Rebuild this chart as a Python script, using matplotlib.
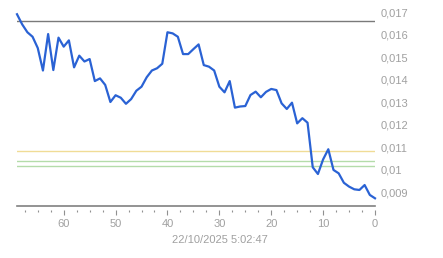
import matplotlib
matplotlib.use("Agg")
import matplotlib.pyplot as plt
from matplotlib.ticker import MultipleLocator, FuncFormatter

# minutes ago (69 .. 0) and price
minutes = list(range(69, -1, -1))
price = [
    0.01690, 0.01645, 0.01610, 0.01590, 0.01540, 0.01440, 0.01602, 0.01442, 0.01586, 0.01546,  # 69-60
    0.01574, 0.01454, 0.01506, 0.01480, 0.01491, 0.01393, 0.01405, 0.01376, 0.01300, 0.01330,  # 59-50
    0.01319, 0.01292, 0.01313, 0.01350, 0.01368, 0.01410, 0.01440, 0.01450, 0.01470, 0.01610,  # 49-40
    0.01605, 0.01590, 0.01513, 0.01513, 0.01535, 0.01556, 0.01464, 0.01457, 0.01440, 0.01368,  # 39-30
    0.01343, 0.01393, 0.01275, 0.01280, 0.01282, 0.01331, 0.01346, 0.01321, 0.01345, 0.01358,  # 29-20
    0.01353, 0.01294, 0.01269, 0.01297, 0.01205, 0.01228, 0.01208, 0.01010, 0.00980, 0.01045,  # 19-10
    0.01090, 0.00998, 0.00983, 0.00941, 0.00924, 0.00912, 0.00909, 0.00931, 0.00887, 0.00872,  # 9-0
]

ref_level = 0.0166
yellow_level = 0.01082
green_levels = [0.010364, 0.010156]
y_ticks = [0.009, 0.010, 0.011, 0.012, 0.013, 0.014, 0.015, 0.016, 0.017]
timestamp = "22/10/2025 5:02:47"

plt.rcParams['font.family'] = ['Liberation Sans', 'DejaVu Sans']

W, H = 443, 258
fig = plt.figure(figsize=(W / 100, H / 100), dpi=100)
left, right, top, bottom = 17, 375, 3, 206
ax = fig.add_axes([left / W, 1 - bottom / H, (right - left) / W, (bottom - top) / H])

ax.plot(minutes, price, color='#2a62d4', lw=1.6, solid_joinstyle='round', zorder=5, clip_on=False)
ax.axhline(ref_level, color='#7a7a7a', lw=1.0)
ax.axhline(yellow_level, color='#f0dc96', lw=1.0)
for g in green_levels:
    ax.axhline(g, color='#b4dcaa', lw=1.0)

px_per_unit = 22500.0
ax.set_ylim(0.017 - (bottom - 12) / px_per_unit, 0.017 + (12 - top) / px_per_unit)
ax.set_xlim(69.0, 0)

# axis line, ticks drawn slightly below it
ax.axhline(ax.get_ylim()[0], color='#808080', lw=1.2, clip_on=False)
for side in ['top', 'left', 'right', 'bottom']:
    ax.spines[side].set_visible(False)
ax.spines['bottom'].set_position(('outward', 3))

ax.xaxis.set_major_locator(MultipleLocator(10))
ax.xaxis.set_minor_locator(MultipleLocator(2.5))
ax.tick_params(axis='x', which='major', length=3.5, width=0.8, color='#909090',
               labelsize=8, labelcolor='#a0a0a0', pad=3)
ax.tick_params(axis='x', which='minor', length=1.2, width=0.8, color='#909090')

ax.yaxis.tick_right()
ax.set_yticks(y_ticks)
ax.yaxis.set_major_formatter(FuncFormatter(lambda v, p: ('%g' % round(v, 3)).replace('.', ',')))
ax.tick_params(axis='y', length=0, labelsize=8, labelcolor='#a0a0a0', pad=4)

fig.text(220 / W, 1 - 240 / H, timestamp, ha='center', va='center', fontsize=8, color='#a0a0a0')

fig.savefig('out.png', dpi=100)
